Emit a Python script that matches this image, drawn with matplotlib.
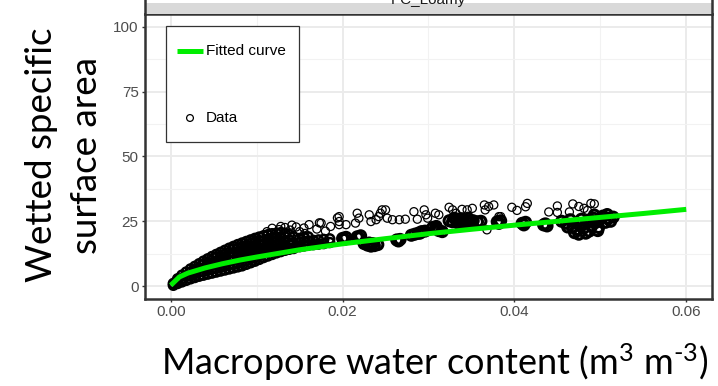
import matplotlib
matplotlib.use("Agg")
import matplotlib.pyplot as plt
from matplotlib.patches import Rectangle
from matplotlib.lines import Line2D

plt.rcParams["mathtext.fontset"] = "custom"
plt.rcParams["mathtext.rm"] = "Lato"
plt.rcParams["mathtext.it"] = "Lato:italic"

# ---- data ----
# dense wedge of overlapping points near the origin
band_x = [
    0.0003, 0.0003,
    0.0008, 0.0008, 0.0008,
    0.0013, 0.0013, 0.0013,
    0.0018, 0.0018, 0.0018,
    0.0023, 0.0023, 0.0023, 0.0023,
    0.0028, 0.0028, 0.0028, 0.0028,
    0.0033, 0.0033, 0.0033, 0.0033,
    0.0038, 0.0038, 0.0038, 0.0038, 0.0038,
    0.0043, 0.0043, 0.0043, 0.0043, 0.0043,
    0.0048, 0.0048, 0.0048, 0.0048, 0.0048,
    0.0053, 0.0053, 0.0053, 0.0053, 0.0053, 0.0053,
    0.0058, 0.0058, 0.0058, 0.0058, 0.0058, 0.0058,
    0.0063, 0.0063, 0.0063, 0.0063, 0.0063, 0.0063,
    0.0068, 0.0068, 0.0068, 0.0068, 0.0068, 0.0068,
    0.0073, 0.0073, 0.0073, 0.0073, 0.0073, 0.0073, 0.0073,
    0.0078, 0.0078, 0.0078, 0.0078, 0.0078, 0.0078, 0.0078,
    0.0083, 0.0083, 0.0083, 0.0083, 0.0083, 0.0083, 0.0083,
    0.0088, 0.0088, 0.0088, 0.0088, 0.0088, 0.0088, 0.0088,
    0.0093, 0.0093, 0.0093, 0.0093, 0.0093, 0.0093, 0.0093,
    0.0098, 0.0098, 0.0098, 0.0098, 0.0098, 0.0098, 0.0098,
    0.0103, 0.0103, 0.0103, 0.0103, 0.0103, 0.0103, 0.0103,
    0.0108, 0.0108, 0.0108, 0.0108, 0.0108, 0.0108,
    0.0113, 0.0113, 0.0113, 0.0113, 0.0113, 0.0113,
    0.0118, 0.0118, 0.0118, 0.0118, 0.0118, 0.0118,
    0.0123, 0.0123, 0.0123, 0.0123, 0.0123, 0.0123,
    0.0128, 0.0128, 0.0128, 0.0128, 0.0128,
    0.0133, 0.0133, 0.0133, 0.0133, 0.0133,
    0.0138, 0.0138, 0.0138, 0.0138,
    0.0143, 0.0143, 0.0143,
    0.0150, 0.0150, 0.0150,
    0.0155, 0.0155, 0.0155,
    0.0160, 0.0160, 0.0160,
    0.0166, 0.0166,
    0.0172, 0.0172,
    0.0178, 0.0178,
    0.0185, 0.0185,
]
band_y = [
    0.3, 1.0,
    1.0, 1.9, 2.8,
    1.6, 2.9, 4.2,
    2.2, 3.8, 5.4,
    2.8, 4.1, 5.4, 6.6,
    3.3, 4.7, 6.2, 7.6,
    3.8, 5.4, 7.0, 8.6,
    4.2, 5.6, 7.0, 8.3, 9.6,
    4.6, 6.1, 7.6, 9.0, 10.5,
    5.0, 6.6, 8.2, 9.8, 11.4,
    5.4, 6.8, 8.2, 9.6, 11.0, 12.2,
    5.8, 7.3, 8.7, 10.1, 11.6, 13.0,
    6.2, 7.7, 9.2, 10.8, 12.3, 13.8,
    6.6, 8.2, 9.8, 11.4, 13.0, 14.6,
    7.0, 8.4, 9.9, 11.4, 12.8, 14.2, 15.3,
    7.4, 8.8, 10.3, 11.7, 13.2, 14.6, 16.0,
    7.8, 9.3, 10.7, 12.2, 13.7, 15.1, 16.6,
    8.4, 9.8, 11.3, 12.8, 14.2, 15.7, 17.2,
    9.0, 10.5, 12.0, 13.4, 14.9, 16.4, 17.8,
    9.6, 11.1, 12.6, 14.0, 15.5, 17.0, 18.4,
    10.3, 11.8, 13.4, 14.8, 16.3, 17.6, 18.9,
    11.0, 12.6, 14.2, 15.8, 17.4, 19.4,
    11.6, 13.2, 14.8, 16.4, 18.1, 19.8,
    12.2, 13.8, 15.4, 17.0, 18.6, 20.2,
    12.8, 14.4, 16.0, 17.6, 19.0, 20.4,
    13.3, 15.0, 16.8, 18.6, 20.6,
    13.8, 15.6, 17.4, 19.0, 20.4,
    14.2, 16.0, 17.8, 19.8,
    14.5, 16.6, 19.0,
    15.2, 16.8, 18.4,
    15.5, 17.2, 18.8,
    15.8, 17.4, 19.0,
    16.0, 17.6,
    16.2, 17.8,
    16.4, 18.0,
    16.8, 18.2,
]

# clumps of overlapping points along the curve
clump_x = [
    0.0200, 0.0204, 0.0202,
    0.0217, 0.0221, 0.0219,
    0.0225, 0.0229, 0.0233, 0.0237, 0.0241, 0.0235, 0.0231,
    0.0263, 0.0267, 0.0265,
    0.0280, 0.0284, 0.0288, 0.0292, 0.0296, 0.0290,
    0.0305, 0.0309, 0.0312, 0.0316, 0.0310,
    0.0324, 0.0328, 0.0332, 0.0336, 0.0340, 0.0344, 0.0348, 0.0352,
    0.0330, 0.0338, 0.0346, 0.0334, 0.0342,
    0.0357, 0.0361,
    0.0380, 0.0384, 0.0382,
    0.0409, 0.0413, 0.0411,
    0.0434, 0.0438, 0.0436,
    0.0455, 0.0460, 0.0465, 0.0468, 0.0470, 0.0473, 0.0476, 0.0478,
    0.0481, 0.0484, 0.0487, 0.0490, 0.0492, 0.0495, 0.0498, 0.0500,
    0.0503, 0.0506, 0.0509, 0.0512, 0.0515, 0.0475, 0.0483, 0.0462,
    0.0493, 0.0508, 0.0497, 0.0488,
]
clump_y = [
    18.4, 18.8, 18.0,
    19.0, 19.4, 18.6,
    16.4, 15.8, 15.4, 15.6, 16.0, 16.4, 16.6,
    17.8, 18.0, 17.4,
    19.6, 20.0, 20.4, 21.0, 21.2, 20.4,
    22.6, 23.0, 21.4, 21.0, 22.0,
    25.2, 24.8, 25.6, 25.2, 24.6, 25.4, 24.8, 25.2,
    26.2, 26.0, 26.2, 24.4, 24.0,
    24.8, 25.0,
    24.8, 25.2, 24.2,
    24.2, 24.6, 23.6,
    23.6, 23.2, 24.0,
    25.0, 24.2, 25.6, 22.6, 20.6, 21.8, 23.6, 25.8,
    22.4, 24.8, 21.2, 23.2, 26.2, 24.6, 22.6, 25.8,
    27.0, 24.6, 26.2, 25.0, 26.6, 20.0, 20.4, 22.8,
    27.4, 27.6, 21.4, 25.6,
]

# scattered single points above the band
loose_x = [
    0.0112, 0.0118, 0.0126, 0.0133, 0.0139, 0.0146, 0.0150, 0.0156, 0.0141, 0.0128,
    0.0161, 0.0155, 0.0170, 0.0180, 0.0173, 0.0194, 0.0196,
    0.0175, 0.0186, 0.0196, 0.0196, 0.0204, 0.0217, 0.0219, 0.0215, 0.0231, 0.0233,
    0.0239, 0.0244, 0.0246, 0.0250, 0.0242, 0.0252, 0.0258, 0.0266, 0.0273, 0.0283,
    0.0287, 0.0295, 0.0297, 0.0299, 0.0308, 0.0312, 0.0324, 0.0328, 0.0332, 0.0339,
    0.0345, 0.0351, 0.0365, 0.0370, 0.0376, 0.0366, 0.0382, 0.0368,
    0.0397, 0.0403, 0.0415, 0.0413, 0.0440, 0.0450, 0.0450, 0.0464, 0.0468, 0.0475,
    0.0481, 0.0489, 0.0493, 0.0485, 0.0384,
]
loose_y = [
    21.0, 22.3, 21.8, 22.6, 21.6, 22.8, 21.0, 20.3, 23.5, 23.0,
    23.7, 22.4, 22.0, 21.2, 24.4, 26.3, 23.7,
    24.3, 23.0, 26.8, 24.9, 23.7, 28.1, 26.2, 24.3, 27.5, 24.9,
    25.6, 28.1, 29.4, 29.4, 26.8, 26.2, 25.6, 25.6, 25.8, 28.7,
    25.8, 29.4, 27.5, 26.2, 28.1, 27.5, 30.4, 29.4, 28.1, 29.6,
    29.4, 30.0, 31.3, 30.7, 31.3, 29.4, 26.8, 21.7,
    30.4, 29.2, 31.9, 30.6, 28.6, 30.9, 28.4, 28.6, 31.7, 30.7,
    30.0, 31.9, 31.7, 29.2, 26.8,
]

# fitted curve, read at intervals along the green line
fit_x = [0.0, 0.001, 0.002, 0.004, 0.006, 0.008, 0.010, 0.015, 0.020,
         0.025, 0.030, 0.035, 0.040, 0.045, 0.050, 0.055, 0.060]
fit_y = [0.3, 3.5, 5.0, 7.0, 8.6, 10.0, 11.2, 14.0, 16.3,
         18.3, 20.2, 21.9, 23.5, 25.0, 26.5, 28.0, 29.6]

x_ticks = [0.00, 0.02, 0.04, 0.06]
x_tick_labels = ["0.00", "0.02", "0.04", "0.06"]
y_ticks = [0, 25, 50, 75, 100]

# ---- figure ----
W, H = 718, 386
fig = plt.figure(figsize=(W / 100, H / 100), dpi=100)
ax = fig.add_axes([145 / W, 1 - 299 / H, 567 / W, 285 / H])

# heavily overplotted parts drawn with a heavier outline so they fill in black
ax.scatter(band_x, band_y, s=42, facecolors="none",
           edgecolors="black", linewidths=1.8, zorder=3)
ax.scatter(clump_x, clump_y, s=52, facecolors="none",
           edgecolors="black", linewidths=2.2, zorder=3)
ax.scatter(loose_x, loose_y, s=34, facecolors="none", edgecolors="black",
           linewidths=0.9, zorder=3)
ax.plot(fit_x, fit_y, color="#00EE00", lw=3.6, solid_capstyle="butt", zorder=4)

ax.set_xlim(-0.003, 0.063)
ax.set_ylim(-5, 105)
ax.set_xticks(x_ticks)
ax.set_xticklabels(x_tick_labels)
ax.set_yticks(y_ticks)
ax.set_xticks([0.01, 0.03, 0.05], minor=True)
ax.set_yticks([12.5, 37.5, 62.5, 87.5], minor=True)
ax.grid(which="major", color="#EBEBEB", lw=1.4, zorder=0)
ax.grid(which="minor", color="#F2F2F2", lw=0.8, zorder=0)
ax.tick_params(which="major", length=2.5, width=1, color="#333333",
               labelsize=11, labelcolor="#4D4D4D", pad=2)
ax.tick_params(which="minor", length=0)
for lab in ax.get_xticklabels() + ax.get_yticklabels():
    lab.set_family("Liberation Sans")
for sp in ax.spines.values():
    sp.set_color("#333333")
    sp.set_linewidth(1.8)

# facet strip (cut off at the top, as in the reference)
fig.patches.append(Rectangle((145 / W, 1 - 14 / H), 567 / W, 11 / H,
                             transform=fig.transFigure, facecolor="#D9D9D9",
                             edgecolor="none", zorder=0))
for xx in (145 / W, 712 / W):
    fig.lines.append(Line2D([xx, xx], [1 - 14 / H, 1.0], transform=fig.transFigure,
                            color="#333333", lw=1.8))
fig.text(428 / W, 1 - 4 / H, "PC_Loamy", ha="center", va="baseline",
         fontsize=11, color="#1A1A1A", family="Liberation Sans")

# legend box
ax.add_patch(Rectangle((21 / 567, (299 - 142) / 285), 133 / 567, 116 / 285,
                       transform=ax.transAxes, facecolor="white",
                       edgecolor="#333333", lw=0.9, zorder=5))
ax.plot([32 / 567, 58 / 567], [(299 - 51) / 285] * 2, transform=ax.transAxes,
        color="#00EE00", lw=3.6, solid_capstyle="butt", zorder=6)
ax.text(61 / 567, (299 - 51) / 285, "Fitted curve", transform=ax.transAxes,
        va="center", ha="left", fontsize=11, family="Liberation Sans", zorder=6)
ax.scatter([45 / 567], [(299 - 118) / 285], transform=ax.transAxes, s=24,
           facecolors="none", edgecolors="black", linewidths=0.9, zorder=6)
ax.text(61 / 567, (299 - 118) / 285, "Data", transform=ax.transAxes,
        va="center", ha="left", fontsize=11, family="Liberation Sans", zorder=6)

# axis titles
fig.text(435 / W, 1 - 362 / H, r"Macropore water content (m$^{3}$ m$^{\text{-3}}$)",
         ha="center", va="center", fontsize=26, family="Lato")
fig.text(64 / W, 1 - 155 / H, "Wetted specific\nsurface area", rotation=90,
         ha="center", va="center", fontsize=26.5, family="Lato", linespacing=1.45)

fig.savefig("out.png", dpi=100)
